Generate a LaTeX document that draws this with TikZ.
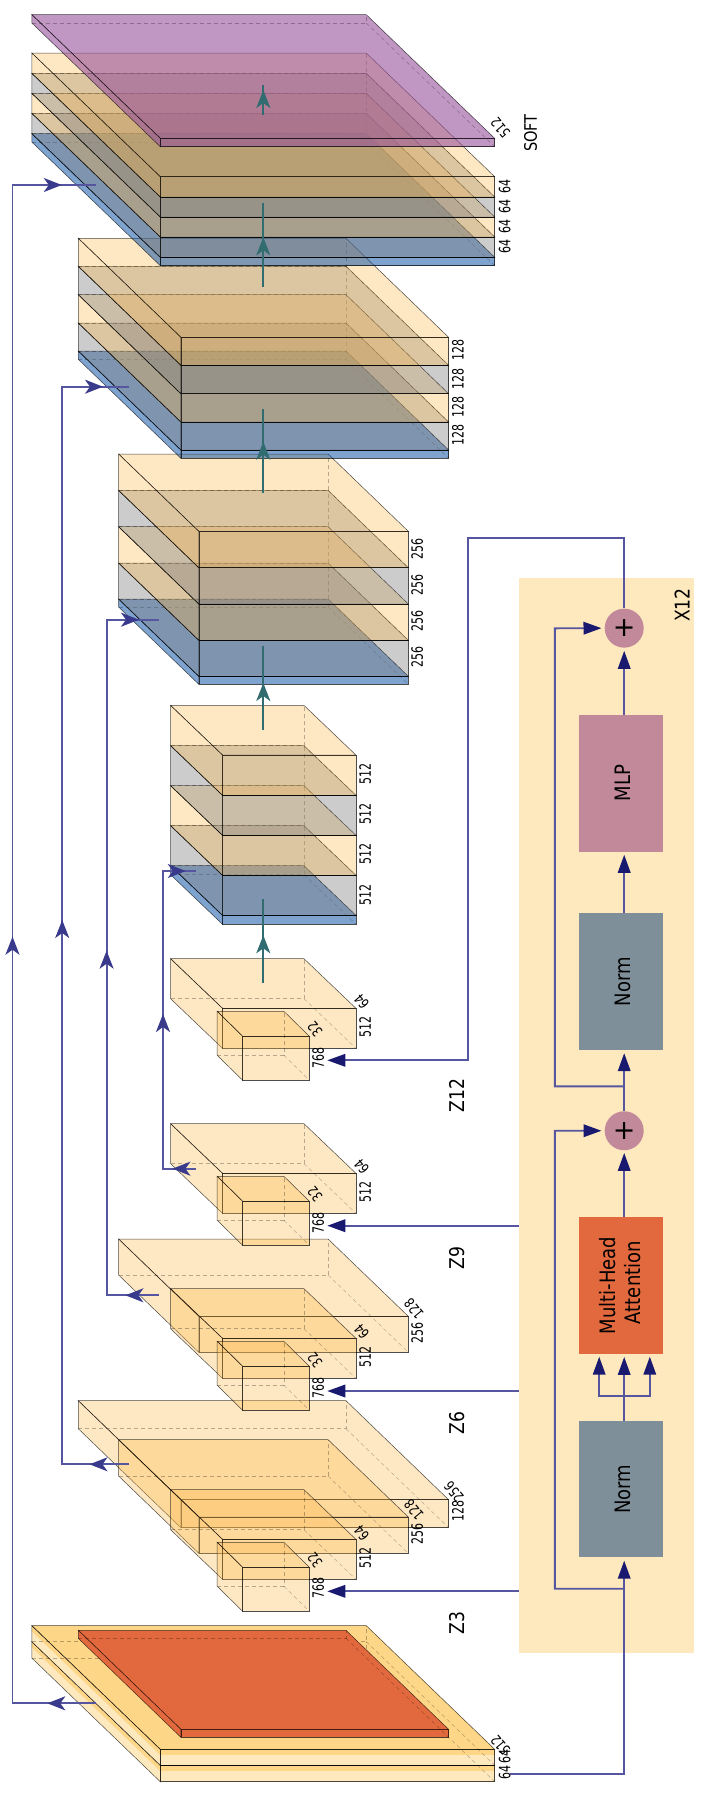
\documentclass[tikz,border=0pt]{standalone}
\usepackage{fontspec}
\setmainfont{DejaVu Sans}
\usetikzlibrary{positioning,arrows.meta,decorations.markings}
\definecolor{layerbase}{RGB}{252,185,75}
\definecolor{layerblue}{RGB}{0,72,160}
\definecolor{layerplum}{RGB}{150,80,155}
\definecolor{panelfill}{RGB}{254,232,190}
\definecolor{bandfill}{RGB}{254,214,135}
\definecolor{attnfill}{RGB}{226,104,62}
\definecolor{mlpfill}{RGB}{194,137,155}
\definecolor{normfill}{RGB}{127,143,153}
\definecolor{linkline}{RGB}{85,85,160}
\definecolor{linkhead}{RGB}{58,58,140}
\definecolor{tealline}{RGB}{48,108,112}
\definecolor{midnight}{RGB}{25,25,112}
\tikzset{
  cubeedge/.style={draw=black,draw opacity=.7,line width=.5pt},
  hidden/.style={draw=black,draw opacity=.28,line width=.5pt,dash pattern=on 4pt off 3pt},
  yellowlayer/.style={cubeedge,fill=layerbase,fill opacity=.33},
  greylayer/.style={cubeedge,fill=gray,fill opacity=.4},
  bluelayer/.style={cubeedge,fill=layerblue,fill opacity=.5},
  plumlayer/.style={cubeedge,fill=layerplum,fill opacity=.6},
  redlayer/.style={cubeedge,fill=attnfill},
  lightlayer/.style={fill=panelfill},
  bandlayer/.style={fill=bandfill},
  edgeonly/.style={cubeedge},
  stacklabel/.style={inner sep=0pt,font=\fontsize{11}{12}\selectfont},
  bigtext/.style={inner sep=0pt,font=\fontsize{17.2}{19}\selectfont},
  blockbox/.style={minimum width=83.3pt,minimum height=136.6pt,inner sep=0pt,font=\fontsize{18}{21}\selectfont},
  addcircle/.style={circle,fill=mlpfill,minimum size=39pt,inner sep=0pt,font=\fontsize{27}{30}\selectfont},
  blockarrow/.style={draw=linkline,line width=1.9pt,-{Stealth[inset=0pt,length=18pt,width=12.5pt,color=midnight]}},
  skiplink/.style n args={3}{draw=linkline,line width=1.9pt,postaction={decorate,decoration={markings,
    mark=at position #1pt with {\arrow[linkhead]{Stealth[length=18pt,width=14pt,inset=5pt]}},
    mark=at position #2pt with {\arrow[linkhead]{Stealth[length=18pt,width=14pt,inset=5pt]}},
    mark=at position #3pt with {\arrow[linkhead]{Stealth[length=18pt,width=14pt,inset=5pt]}}}}},
  tealarrow/.style={draw=tealline,line width=1.9pt,postaction={decorate,decoration={markings,
    mark=at position #1pt with {\arrow[tealline]{Stealth[length=18pt,width=14pt,inset=5pt]}}}}}
}
% style, front x1, front x2, front y, height, depth x, depth y
\newcommand{\cubefaces}[7]{
  \path[#1] (#2,#4) rectangle (#3,#4+#5);
  \path[#1] (#2,#4) -- (#3,#4) -- (#3-#6,#4-#7) -- (#2-#6,#4-#7) -- cycle;
  \path[#1] (#2,#4) -- (#2,#4+#5) -- (#2-#6,#4+#5-#7) -- (#2-#6,#4-#7) -- cycle;
}
\newcommand{\cubehidden}[6]{
  \draw[hidden] (#1-#5,#3+#4-#6) -- (#2-#5,#3+#4-#6) -- (#2-#5,#3-#6);
  \draw[hidden] (#2-#5,#3+#4-#6) -- (#2,#3+#4);
}
\newcommand{\cuboid}[7]{\cubefaces{#1}{#2}{#3}{#4}{#5}{#6}{#7}\cubehidden{#2}{#3}{#4}{#5}{#6}{#7}}
\newcommand{\cubeWide}[3]{\cuboid{#1}{160.3}{494.7}{#2}{#3}{128.5}{123.7}}
\newcommand{\cubeLarge}[3]{\cuboid{#1}{180.9}{448.6}{#2}{#3}{102.6}{99}}
\newcommand{\cubeMid}[3]{\cuboid{#1}{198.8}{408.3}{#2}{#3}{80.2}{77.3}}
\newcommand{\cubeSmall}[3]{\cuboid{#1}{222.5}{355.9}{#2}{#3}{51.9}{49.6}}
\newcommand{\cubeTiny}[3]{\cuboid{#1}{242.7}{309.4}{#2}{#3}{25.5}{25}}
\newcommand{\turned}[1]{\rotatebox{90}{\scalebox{1}[1.18]{#1}}}
\newcommand{\turnednum}[1]{\rotatebox{90}{\scalebox{1}[1.42]{#1}}}
\newcommand{\slanted}[1]{\scalebox{1}[1.3]{#1}}

\begin{document}
\begin{tikzpicture}[x=1pt,y=-1pt]
\useasboundingbox (0,0) rectangle (702,1797);

% input block
\cubefaces{lightlayer}{160.3}{494.7}{1765.3}{16.4}{128.5}{123.7}
\cubefaces{bandlayer}{160.3}{494.7}{1765.3}{5.7}{128.5}{123.7}
\cubefaces{edgeonly}{160.3}{494.7}{1765.3}{16.4}{128.5}{123.7}
\cubefaces{lightlayer}{160.3}{494.7}{1749.3}{16}{128.5}{123.7}
\cubefaces{bandlayer}{160.3}{494.7}{1749.3}{5.7}{128.5}{123.7}
\cubefaces{edgeonly}{160.3}{494.7}{1749.3}{16}{128.5}{123.7}
\cubehidden{160.3}{494.7}{1765.3}{16.4}{128.5}{123.7}
\cubehidden{160.3}{494.7}{1749.3}{16}{128.5}{123.7}
\cubeLarge{redlayer}{1729.3}{8}

% Z3
\cubeLarge{yellowlayer}{1499.7}{28}
\cubeMid{yellowlayer}{1517}{36.3}
\cubeSmall{yellowlayer}{1539.3}{40}
\cubeTiny{yellowlayer}{1567.3}{44}
% Z6
\cubeMid{yellowlayer}{1316.3}{36}
\cubeSmall{yellowlayer}{1338.3}{40}
\cubeTiny{yellowlayer}{1366.3}{44}
% Z9
\cubeSmall{yellowlayer}{1173.3}{40}
\cubeTiny{yellowlayer}{1201.3}{44}
% Z12
\cubeSmall{yellowlayer}{1008.3}{40}
\cubeTiny{yellowlayer}{1036.3}{44}

% decoder stacks, bottom layer first
\cubeSmall{bluelayer}{915.3}{9}
\cubeSmall{greylayer}{875.3}{40}
\cubeSmall{yellowlayer}{835.3}{40}
\cubeSmall{greylayer}{795.3}{40}
\cubeSmall{yellowlayer}{755}{40.3}

\cubeMid{bluelayer}{676.3}{8}
\cubeMid{greylayer}{640.3}{36}
\cubeMid{yellowlayer}{604}{36.3}
\cubeMid{greylayer}{567.7}{36.3}
\cubeMid{yellowlayer}{531.3}{36.4}

\cubeLarge{bluelayer}{450}{8.3}
\cubeLarge{greylayer}{422}{28}
\cubeLarge{yellowlayer}{393.7}{28.3}
\cubeLarge{greylayer}{365.3}{28.4}
\cubeLarge{yellowlayer}{337.3}{28}

\cubeWide{bluelayer}{257.3}{8.4}
\cubeWide{greylayer}{237}{20.3}
\cubeWide{yellowlayer}{217}{20}
\cubeWide{greylayer}{197}{20}
\cubeWide{yellowlayer}{176.7}{20.3}
\cubeWide{plumlayer}{138.3}{8.4}

% side panel
\node[fill=panelfill,minimum width=174.6pt,minimum height=1074.7pt,inner sep=0pt] (panel) at (606.2,1115.35) {};
\node[blockbox,fill=normfill] (normA) at (621,1489.15) {\hspace*{4pt}\turned{Norm}};
\node[blockbox,fill=attnfill,above=66.7pt of normA] (attn) {\hspace*{4pt}\turned{\begin{tabular}{@{}c@{}}Multi-Head\\\ Attention\end{tabular}}};
\node[addcircle,above=66.5pt of attn,xshift=3.2pt] (addA) {+};
\node[blockbox,fill=normfill,above=60.9pt of addA,xshift=-3.2pt] (normB) {\hspace*{4pt}\turned{Norm}};
\node[blockbox,fill=mlpfill,above=61.4pt of normB] (mlp) {\hspace*{4pt}\turned{MLP}};
\node[addcircle,above=66.9pt of mlp,xshift=3.2pt] (addB) {+};
\node[bigtext] (repeatlab) at (682,605) {\turned{X12}};

% labels along the front faces
\foreach \i/\x/\y/\t in {a/504.6/186.7/64,b/504.6/206/64,c/504.6/226/64,d/504.6/246/64,
  e/458/350.3/128,f/458/378.7/128,g/458/406.7/128,h/458/434.7/128,
  j/417.3/548.7/256,k/417.3/585/256,l/417.3/621/256,m/417.3/657.3/256,
  n/365.3/774.3/512,o/365.3/814.3/512,p/365.3/854.3/512,q/365.3/894.7/512,
  r/365.3/1027.3/512,s/318.3/1057.7/768,t/365.3/1192.3/512,u/318.3/1222.7/768,
  v/417.3/1332.7/256,w/365.3/1357.3/512,x/318.3/1387.7/768,
  y/458/1510.7/128,z/417.3/1534/256,A/365.3/1558.3/512,B/318.3/1588.3/768,
  C/504.6/1756/64,D/504.6/1772.3/64}
  \node[stacklabel] (front\i) at (\x,\y) {\turnednum{\t}};
% labels along the depth
\foreach \i/\x/\y/\t in {a/500.5/128/512,b/361.7/1001.7/64,c/315/1029.3/32,d/361.7/1166.7/64,e/315/1194.3/32,
  f/414/1309/128,g/361.7/1331.7/64,h/315/1360/32,j/454/1491.7/256,k/414/1510/128,
  l/361.7/1533.3/64,m/315/1560/32,n/500.5/1745/512}
  \node[stacklabel,rotate=130] (depth\i) at (\x,\y) {\slanted{\t}};

\node[inner sep=0pt,font=\fontsize{14.6}{16}\selectfont] (softlab) at (530.5,133) {\turned{SOFT}};
\foreach \t/\y in {12/1095.7,9/1258,6/1423.3,3/1623.3}
  \node[bigtext] (zlab\t) at (456.7,\y) {\turned{Z\t}};

% panel wiring
\coordinate (outA) at (510.4,1774.3);
\coordinate (forkA) at (624.2,1588.7);
\coordinate (busA) at (554.8,1130.7);
\coordinate (forkB) at (624.2,1086.3);
\coordinate (busB) at (554.8,628.3);
\coordinate (forkC) at (624.2,1396);
\coordinate (headL) at (599.2,1356.7);
\coordinate (headR) at (649.8,1356.7);
\coordinate (backA) at (467.6,537.7);
\coordinate (inZ12) at (327.3,1060.3);
\draw[blockarrow,shorten >=3pt] (outA) -| (normA.south -| addA);
\draw[blockarrow,shorten >=3pt] (normA.north -| addA) -- (attn.south -| addA);
\draw[blockarrow] (forkC) -| (headL);
\draw[blockarrow] (forkC) -| (headR);
\draw[blockarrow,shorten >=2.5pt] (attn.north -| addA) -- (addA.south);
\draw[blockarrow,shorten >=3pt] (addA.north) -- (normB.south -| addA);
\draw[blockarrow,shorten >=3pt] (normB.north -| addA) -- (mlp.south -| addA);
\draw[blockarrow,shorten >=3pt] (mlp.north -| addA) -- (addB.south);
\draw[blockarrow,shorten >=3pt] (forkA) -| (busA) -- (addA.west);
\draw[blockarrow,shorten >=3pt] (forkB) -| (busB) -- (addB.west);
\draw[blockarrow] (addB.north) |- (backA) |- (inZ12);
\foreach \t/\y in {9/1225.7,6/1391,3/1591.3}{
  \coordinate (inZ\t) at (327.3,\y);
  \draw[blockarrow] (panel.west |- inZ\t) -- (inZ\t);
}

% upward arrows through the stacks
\foreach \i/\a/\b/\p in {a/983.3/899.3/48,b/730/646/47,c/492.7/408.7/51,d/287.3/203.3/50,e/115/85/25}{
  \coordinate (up\i) at (263.3,\a);
  \coordinate (to\i) at (263.3,\b);
  \draw[tealarrow=\p] (up\i) -- (to\i);
}

% skip links
\coordinate (skipAin) at (96.3,1703.3);
\coordinate (skipAout) at (96.3,185);
\coordinate (skipBin) at (129,1464.3);
\coordinate (skipBout) at (129,386.7);
\coordinate (skipCin) at (158.5,1295.3);
\coordinate (skipCout) at (158.5,619.7);
\coordinate (skipDin) at (196,1168.7);
\coordinate (skipDout) at (196,871);
\draw[skiplink={49}{850.4}{1651.4}] (skipAin) -- ++(-83.8,0) |- (skipAout);
\draw[skiplink={39.5}{611.1}{1185.2}] (skipBin) -- ++(-66.8,0) |- (skipBout);
\draw[skiplink={33.1}{396.5}{759.9}] (skipCin) -- ++(-51.9,0) |- (skipCout);
\draw[skiplink={23.6}{187.7}{353.5}] (skipDin) -- ++(-33,0) |- (skipDout);
\end{tikzpicture}
\end{document}
